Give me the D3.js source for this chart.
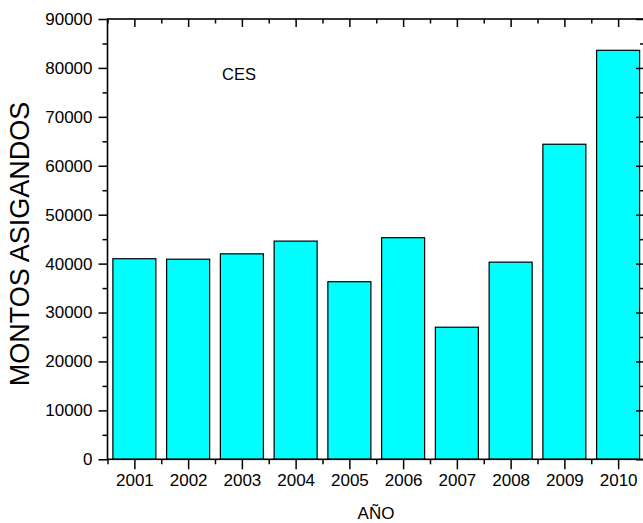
<!DOCTYPE html>
<html>
<head>
<meta charset="utf-8">
<script src="https://cdn.jsdelivr.net/npm/d3@7"></script>
<style>
  html, body { margin: 0; padding: 0; background: #fff; }
  svg { display: block; }
  text { font-family: Arial, "Liberation Sans", sans-serif; fill: #000; }
</style>
</head>
<body>
<svg id="chart" width="643" height="523"></svg>
<script>
const years = [2001, 2002, 2003, 2004, 2005, 2006, 2007, 2008, 2009, 2010];
const montos = [41000, 40900, 42000, 44600, 36300, 45300, 27000, 40300, 64400, 83600];
const yTicks = [0, 10000, 20000, 30000, 40000, 50000, 60000, 70000, 80000, 90000];
const yMinor = [5000, 15000, 25000, 35000, 45000, 55000, 65000, 75000, 85000];
const xMinor = [2000.5, 2001.5, 2002.5, 2003.5, 2004.5, 2005.5, 2006.5, 2007.5, 2008.5, 2009.5];
const labelText = "CES";
const xTitle = "AÑO";
const yTitle = "MONTOS ASIGANDOS";

const svg = d3.select("#chart");
const mLeft = 107.5, mRight = 645, mTop = 19, mBottom = 459.3;

const x = d3.scaleLinear().domain([2000.5, 2010.5]).range([mLeft, mRight]);
const y = d3.scaleLinear().domain([0, 90000]).range([mBottom, mTop]);
const barHalf = 0.4;

// bars
svg.append("g").selectAll("rect").data(years).join("rect")
  .attr("x", (d) => x(d - barHalf))
  .attr("width", (d) => x(d + barHalf) - x(d - barHalf))
  .attr("y", (d, i) => y(montos[i]))
  .attr("height", (d, i) => y(0) - y(montos[i]))
  .attr("fill", "#00ffff")
  .attr("stroke", "#000")
  .attr("stroke-width", 1.2);

function styleAxis(g) {
  g.select(".domain").remove();
  g.selectAll(".tick line").attr("stroke", "#000").attr("stroke-width", 1.5);
  g.selectAll(".tick text").style("font-size", "17px").attr("fill", "#000")
    .style("font-family", "Arial, 'Liberation Sans', sans-serif");
}

// left axis
svg.append("g").attr("transform", `translate(${mLeft},0)`)
  .call(d3.axisLeft(y).tickValues(yTicks).tickSize(9).tickPadding(6).tickFormat(d3.format("d")))
  .call(styleAxis);
svg.append("g").attr("transform", `translate(${mLeft},0)`)
  .call(d3.axisLeft(y).tickValues(yMinor).tickSize(5).tickFormat(""))
  .call(styleAxis);

// right axis (ticks inward)
svg.append("g").attr("transform", `translate(${mRight},0)`)
  .call(d3.axisRight(y).tickValues(yTicks).tickSize(-9).tickFormat(""))
  .call(styleAxis);
svg.append("g").attr("transform", `translate(${mRight},0)`)
  .call(d3.axisRight(y).tickValues(yMinor).tickSize(-5).tickFormat(""))
  .call(styleAxis);

// bottom axis
svg.append("g").attr("transform", `translate(0,${mBottom})`)
  .call(d3.axisBottom(x).tickValues(years).tickSize(10).tickPadding(5).tickFormat(d3.format("d")))
  .call(styleAxis);
svg.append("g").attr("transform", `translate(0,${mBottom})`)
  .call(d3.axisBottom(x).tickValues(xMinor).tickSize(5).tickFormat(""))
  .call(styleAxis);

// top axis (ticks inward)
svg.append("g").attr("transform", `translate(0,${mTop})`)
  .call(d3.axisTop(x).tickValues(years).tickSize(-8).tickFormat(""))
  .call(styleAxis);
svg.append("g").attr("transform", `translate(0,${mTop})`)
  .call(d3.axisTop(x).tickValues(xMinor).tickSize(-4.5).tickFormat(""))
  .call(styleAxis);

// frame
svg.append("rect")
  .attr("x", mLeft).attr("y", mTop)
  .attr("width", mRight - mLeft).attr("height", mBottom - mTop)
  .attr("fill", "none").attr("stroke", "#000").attr("stroke-width", 1.6);

// CES label
svg.append("text")
  .attr("x", x(2002.63)).attr("y", y(77600))
  .style("font-size", "16.5px")
  .text(labelText);

// titles
svg.append("text")
  .attr("x", 376).attr("y", 519)
  .attr("text-anchor", "middle")
  .style("font-size", "17px")
  .text(xTitle);

svg.append("text")
  .attr("transform", "translate(29,244) rotate(-90)")
  .attr("text-anchor", "middle")
  .style("font-size", "27px")
  .text(yTitle);
</script>
</body>
</html>
